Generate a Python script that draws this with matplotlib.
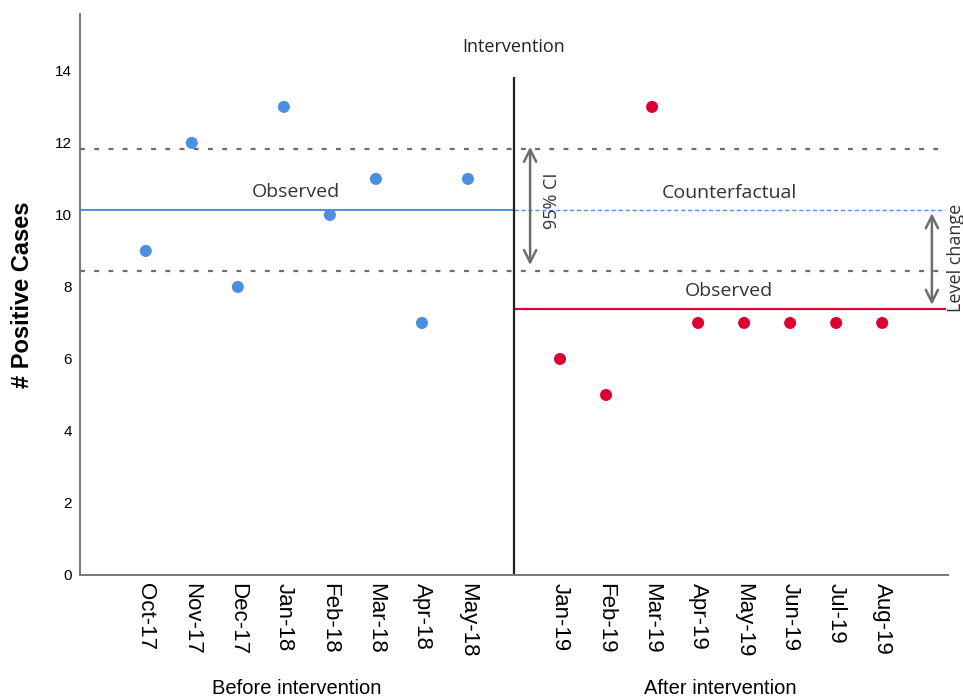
import matplotlib
matplotlib.use('Agg')
import matplotlib.pyplot as plt

plt.rcParams['font.family'] = ['Liberation Sans', 'DejaVu Sans']

# Monthly positive cases
before_months = ['Oct-17', 'Nov-17', 'Dec-17', 'Jan-18', 'Feb-18', 'Mar-18', 'Apr-18', 'May-18']
before_cases = [9, 12, 8, 13, 10, 11, 7, 11]
after_months = ['Jan-19', 'Feb-19', 'Mar-19', 'Apr-19', 'May-19', 'Jun-19', 'Jul-19', 'Aug-19']
after_cases = [6, 5, 13, 7, 7, 7, 7, 7]

# Summary levels
before_mean = 10.125
after_mean = 7.375
ci_low = 8.43
ci_high = 11.82

blue = '#4A8FE0'
red = '#DC0035'
grey = '#6E6E6E'

# x positions: one slot per month, gap slot for the intervention
x_before = list(range(1, len(before_months) + 1))
x_interv = len(before_months) + 1
x_after = [x_interv + 1 + i for i in range(len(after_months))]
x_left, x_right, x_end = -0.43, 18.43, 18.37

fig = plt.figure(figsize=(9.63, 7.0), dpi=100)
ax = fig.add_axes([80 / 963, 1 - 575 / 700, 868 / 963, 561 / 700])

# CI band limits (dotted) across the whole axis
for v in (ci_low, ci_high):
    ax.plot([x_left, x_end], [v, v], color=grey, lw=1.6, ls=(0, (2.2, 4.2)))

# observed mean before, counterfactual after
ax.plot([x_left, x_interv], [before_mean, before_mean], color=blue, lw=1.4)
ax.plot([x_interv, x_end], [before_mean, before_mean], color=blue, lw=1.0, ls=(0, (3, 2)))
# observed mean after
ax.plot([x_interv, x_end], [after_mean, after_mean], color=red, lw=1.6)

# intervention line
ax.plot([x_interv, x_interv], [0, 13.8], color='#222222', lw=1.6)

ax.scatter(x_before, before_cases, s=75, color=blue, zorder=3, edgecolors='none')
ax.scatter(x_after, after_cases, s=75, color=red, zorder=3, edgecolors='none')

# arrows
ax.annotate('', xy=(9.35, ci_high + 0.15), xytext=(9.35, ci_low + 0.1),
            arrowprops=dict(arrowstyle='<->', color=grey, lw=1.8, mutation_scale=22))
ax.annotate('', xy=(18.08, before_mean), xytext=(18.08, after_mean + 0.05),
            arrowprops=dict(arrowstyle='<->', color=grey, lw=1.8, mutation_scale=22))

ann = dict(family=['Open Sans', 'DejaVu Sans'], color='#333333')
ax.text(9.83, 10.4, '95% CI', rotation=90, ha='center', va='center', fontsize=13, **ann)
ax.text(18.6, 8.8, 'Level change', rotation=90, ha='center', va='center', fontsize=13,
        clip_on=False, **ann)
ax.text(x_interv, 14.65, 'Intervention', ha='center', va='center', fontsize=13,
        family=['Open Sans', 'DejaVu Sans'], color='#222222')
ax.text(4.25, 10.65, 'Observed', ha='center', va='center', fontsize=14, **ann)
ax.text(13.67, 10.62, 'Counterfactual', ha='center', va='center', fontsize=14, **ann)
ax.text(13.67, 7.9, 'Observed', ha='center', va='center', fontsize=14, **ann)

ax.set_xlim(x_left, x_right)
ax.set_ylim(0, 15.58)
ax.set_yticks([0, 2, 4, 6, 8, 10, 12, 14])
ax.set_xticks(x_before + x_after)
ax.set_xticklabels(before_months + after_months, rotation=270, fontsize=16)
ax.tick_params(axis='y', labelsize=11, length=0, pad=6)
ax.tick_params(axis='x', length=0, pad=6)
ax.set_ylabel('# Positive Cases', fontsize=17, fontweight='bold')
ax.yaxis.set_label_coords(-46 / 868, 0.5)

for s in ('top', 'right'):
    ax.spines[s].set_visible(False)
for s in ('left', 'bottom'):
    ax.spines[s].set_color('#777777')
    ax.spines[s].set_linewidth(1.4)

fig.text(297 / 963, 1 - 689 / 700, 'Before intervention', ha='center', va='center', fontsize=14.5)
fig.text(720 / 963, 1 - 689 / 700, 'After intervention', ha='center', va='center', fontsize=14.5)

fig.savefig('out.png', dpi=100)
